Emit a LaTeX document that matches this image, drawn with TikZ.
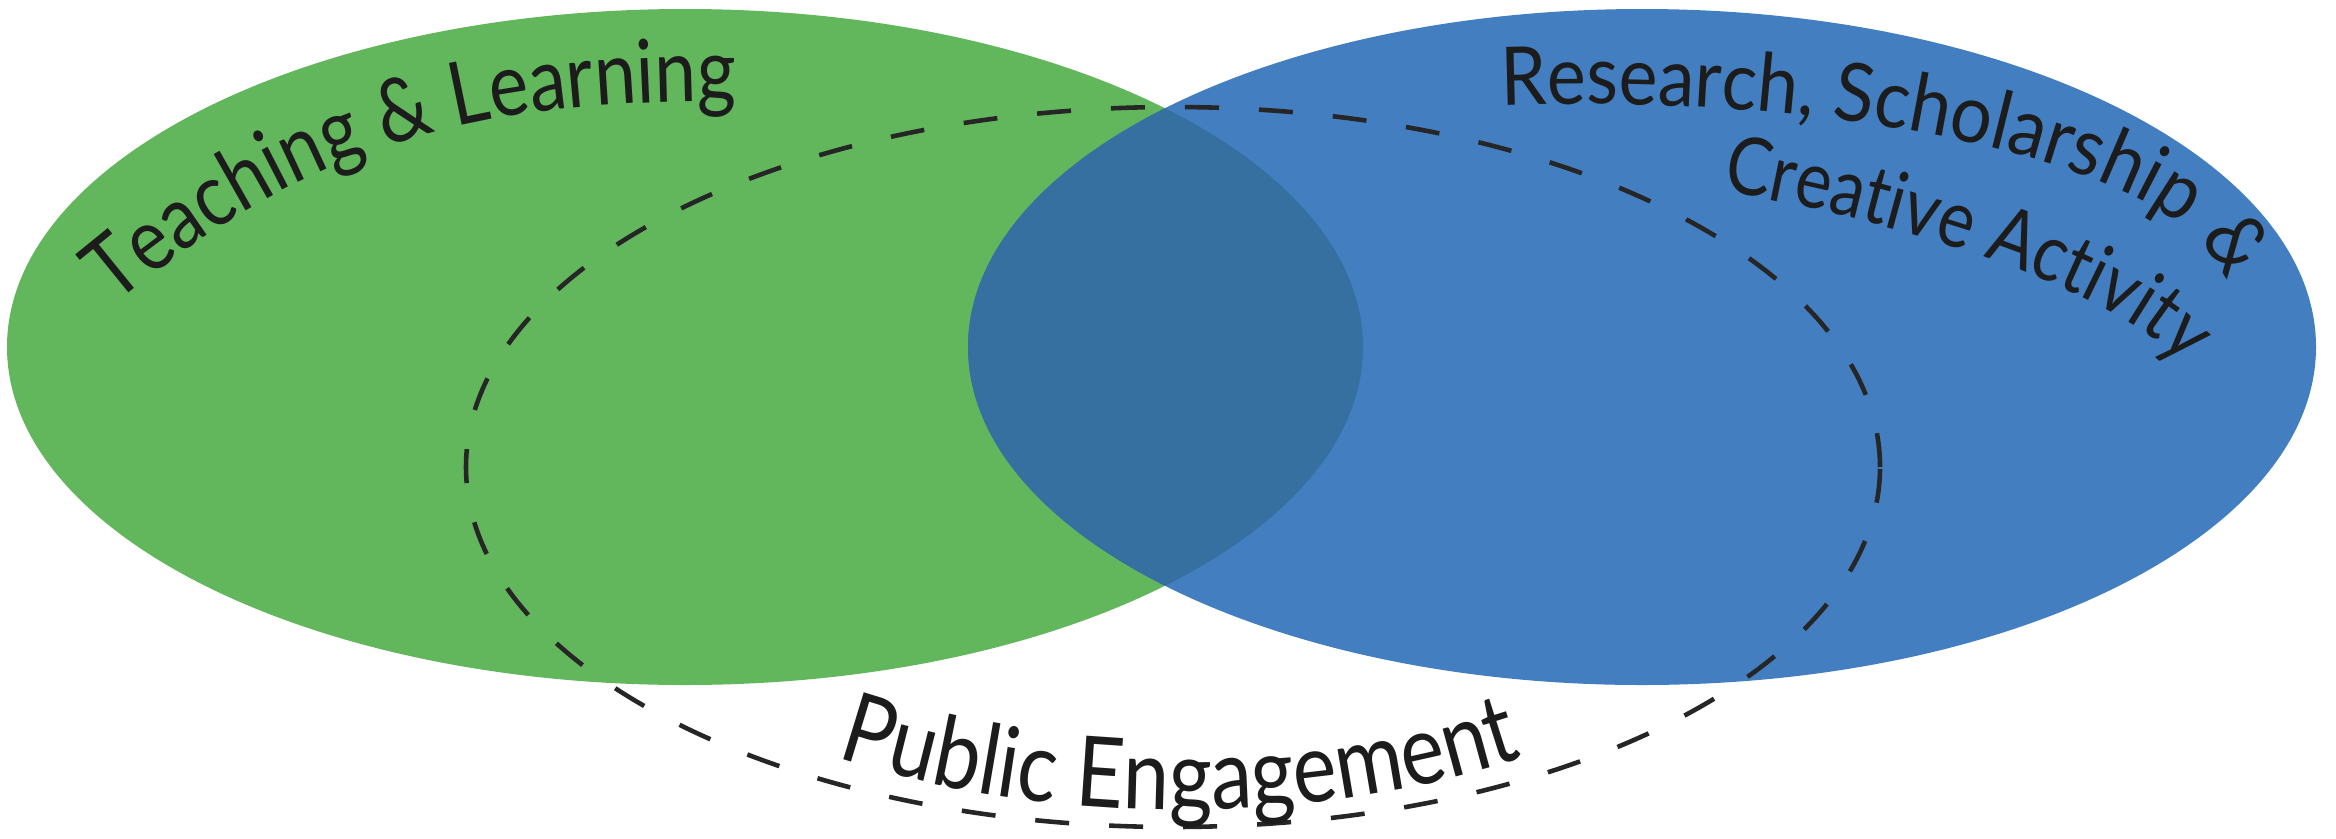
\documentclass[tikz,border=0pt]{standalone}
\usepackage{fontspec}
\usetikzlibrary{decorations.text}
\newfontfamily\latoA[FakeStretch=0.85]{Lato}
\newfontfamily\latoB[FakeStretch=0.91]{Lato}
\definecolor{vgreen}{RGB}{98,182,92}
\definecolor{vblue}{RGB}{66,126,192}
\definecolor{voverlap}{RGB}{53,112,160}
\definecolor{vtext}{RGB}{28,28,28}
\begin{document}
\begin{tikzpicture}[x=0.01cm,y=0.01cm,
  dashedring/.style={draw=black!85, line width=1.3pt, dash pattern=on 0.34cm off 0.4cm},
  curvedtext/.style={decorate, decoration={text along path, text color=vtext, #1}}]
\useasboundingbox (0,0) rectangle (2336,838);
% circles
\fill[vgreen] (685,491) ellipse[x radius=678, y radius=338];
\fill[vblue] (1642,491) ellipse[x radius=674, y radius=338];
\begin{scope}
  \clip (685,491) ellipse[x radius=678, y radius=338];
  \fill[voverlap] (1642,491) ellipse[x radius=674, y radius=338];
\end{scope}
\draw[dashedring] (1173,371) ellipse[x radius=707, y radius=360];
% labels
\path[curvedtext={text align=left, text={|\latoA\fontsize{25}{30}\selectfont|Teaching {\&} Learning}}]
  (115,533) .. controls (311,698) and (479,737) .. (735,737) -- (1100,737);
\path[curvedtext={text align=left, text={|\latoB\fontsize{23}{27}\selectfont|Research, Scholarship {\&}}}]
  (1501.4,732.6) arc[start angle=97, end angle=-40, x radius=645, y radius=190];
\path[curvedtext={text align=left, text={|\latoA\fontsize{22.8}{27}\selectfont|Creative Activity}}]
  (1722,647) .. controls (1841,628) and (2108,562) .. (2185,470) -- ++(-50:250);
\path[curvedtext={text align=center, text={|\latoA\fontsize{27.8}{33}\selectfont|Public Engagement}}]
  (582.4,248.4) arc[start angle=200, end angle=340, x radius=636, y radius=335];
\end{tikzpicture}
\end{document}
